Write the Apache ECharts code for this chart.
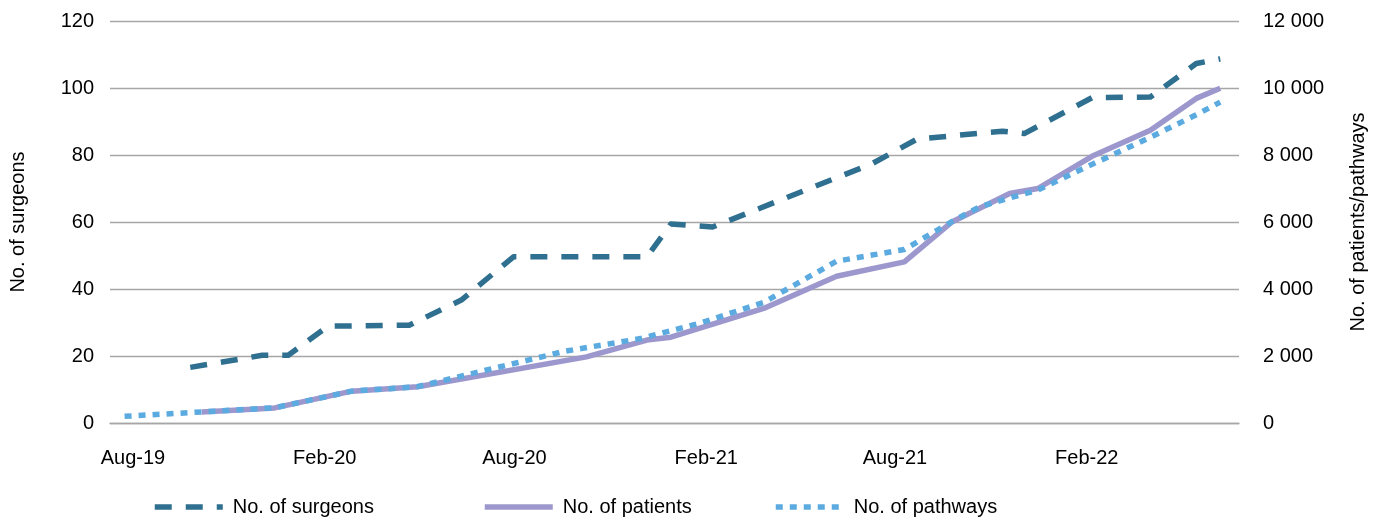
<!DOCTYPE html>
<html>
<head>
<meta charset="utf-8">
<script src="https://cdn.jsdelivr.net/npm/echarts@6/dist/echarts.min.js"></script>
<style>
html,body{margin:0;padding:0;background:#fff;}
#chart{width:1385px;height:522px;}
</style>
</head>
<body>
<div id="chart"></div>
<script>
// ---- data ----
const seriesNames = ['No. of surgeons', 'No. of patients', 'No. of pathways'];

const surgeonDates = ['2019-09-25','2019-12-03','2019-12-28','2020-02-04','2020-04-22','2020-06-11','2020-07-31','2020-12-06','2020-12-29','2021-02-07','2021-07-10','2021-08-22','2021-10-21','2021-11-12','2021-12-03','2022-02-06','2022-04-03','2022-05-17','2022-06-09'];
const surgeonValues = [16.6, 20.2, 20.2, 28.9, 29.2, 36.7, 49.6, 49.6, 59.4, 58.5, 77.4, 84.7, 86.5, 87.1, 86.4, 97.1, 97.3, 107.3, 108.7];

const patientDates = ['2019-10-06','2019-12-15','2020-02-27','2020-04-30','2020-10-09','2020-12-06','2020-12-29','2021-03-28','2021-06-06','2021-08-10','2021-09-25','2021-11-19','2021-12-16','2022-02-06','2022-04-03','2022-05-17','2022-06-09'];
const patientValues = [330, 450, 950, 1080, 1975, 2475, 2560, 3420, 4380, 4810, 6010, 6850, 7000, 7960, 8740, 9690, 9990];

const pathwayDates = ['2019-07-24','2019-10-06','2019-12-15','2020-02-27','2020-04-30','2020-09-18','2020-11-30','2021-01-26','2021-03-28','2021-06-06','2021-08-10','2021-09-25','2021-10-21','2021-11-19','2021-12-16','2022-02-06','2022-04-03','2022-05-17','2022-06-09'];
const pathwayValues = [200, 330, 455, 950, 1085, 2140, 2520, 2980, 3600, 4830, 5180, 6020, 6450, 6720, 6950, 7720, 8530, 9200, 9580];

// x-axis tick labels (every six months)
const xTickDates = ['2019-08-01','2020-02-01','2020-08-01','2021-02-01','2021-08-01','2022-02-01'];
const xTickLabels = ['Aug-19','Feb-20','Aug-20','Feb-21','Aug-21','Feb-22'];
const xMin = '2019-07-10';
const xMax = '2022-06-27';

// ---- chart ----
function ts(s){ const p = s.split('-').map(Number); return Date.UTC(p[0], p[1]-1, p[2]); }
function pairs(d, v){ return d.map((x, i) => [ts(x), v[i]]); }
const tickTs = xTickDates.map(ts);

const FONT = 'Liberation Sans, Arial, sans-serif';
const chart = echarts.init(document.getElementById('chart'), null, {renderer:'canvas'});
const legendBase = {
  top: 497, padding: 0, itemWidth: 68, itemHeight: 14, itemGap: 10,
  itemStyle: {opacity: 0},
  lineStyle: {width: 5.5},
  textStyle: {fontFamily: FONT, fontSize: 20, color: '#000', padding: [0, 0, 0, 5]}
};
chart.setOption({
  animation: false,
  backgroundColor: '#fff',
  grid: {left: 110, right: 146, top: 21, bottom: 99, containLabel: false},
  xAxis: {
    type: 'value',
    min: ts(xMin), max: ts(xMax),
    axisLine: {show: true, onZero: false, lineStyle: {color: '#A6A6A6', width: 1.3}},
    axisTick: {show: false},
    splitLine: {show: false},
    axisLabel: {
      customValues: tickTs,
      color: '#000', fontFamily: FONT, fontSize: 20, margin: 25,
      formatter: function (val) {
        let best = 0;
        tickTs.forEach((t, k) => { if (Math.abs(t - val) < Math.abs(tickTs[best] - val)) best = k; });
        return xTickLabels[best];
      }
    }
  },
  yAxis: [
    {
      type: 'value', min: 0, max: 120, interval: 20, position: 'left',
      name: 'No. of surgeons', nameLocation: 'middle', nameRotate: 90, nameGap: 82,
      nameTextStyle: {fontFamily: FONT, fontSize: 20, color: '#000'},
      axisLine: {show: false}, axisTick: {show: false},
      axisLabel: {color: '#000', fontFamily: FONT, fontSize: 20, margin: 16},
      splitLine: {show: true, lineStyle: {color: '#A6A6A6', width: 1.3}}
    },
    {
      type: 'value', min: 0, max: 12000, interval: 2000, position: 'right',
      name: 'No. of patients/pathways', nameLocation: 'middle', nameRotate: 90, nameGap: 109,
      nameTextStyle: {fontFamily: FONT, fontSize: 20, color: '#000'},
      axisLine: {show: false}, axisTick: {show: false},
      axisLabel: {
        color: '#000', fontFamily: FONT, fontSize: 20, margin: 24,
        formatter: v => String(v).replace(/\B(?=(\d{3})+(?!\d))/g, ' ')
      },
      splitLine: {show: false}
    }
  ],
  legend: [
    Object.assign({}, legendBase, {left: 152, data: [seriesNames[0]]}),
    Object.assign({}, legendBase, {left: 482, data: [seriesNames[1]]}),
    Object.assign({}, legendBase, {left: 773, data: [seriesNames[2]]})
  ],
  series: [
    {
      name: seriesNames[0], type: 'line', yAxisIndex: 0,
      data: pairs(surgeonDates, surgeonValues),
      symbol: 'none', showSymbol: false,
      lineStyle: {color: '#2F6F8F', width: 5.5, type: [17, 14], cap: 'butt', join: 'round'},
      itemStyle: {color: '#2F6F8F'}, z: 2
    },
    {
      name: seriesNames[1], type: 'line', yAxisIndex: 1,
      data: pairs(patientDates, patientValues),
      symbol: 'none', showSymbol: false,
      lineStyle: {color: '#9C98CE', width: 5.5, type: 'solid', join: 'round'},
      itemStyle: {color: '#9C98CE'}, z: 3
    },
    {
      name: seriesNames[2], type: 'line', yAxisIndex: 1,
      data: pairs(pathwayDates, pathwayValues),
      symbol: 'none', showSymbol: false,
      lineStyle: {color: '#5BAAE0', width: 5.5, type: [7, 7], cap: 'butt', join: 'round'},
      itemStyle: {color: '#5BAAE0'}, z: 4
    }
  ]
});
</script>
</body>
</html>
